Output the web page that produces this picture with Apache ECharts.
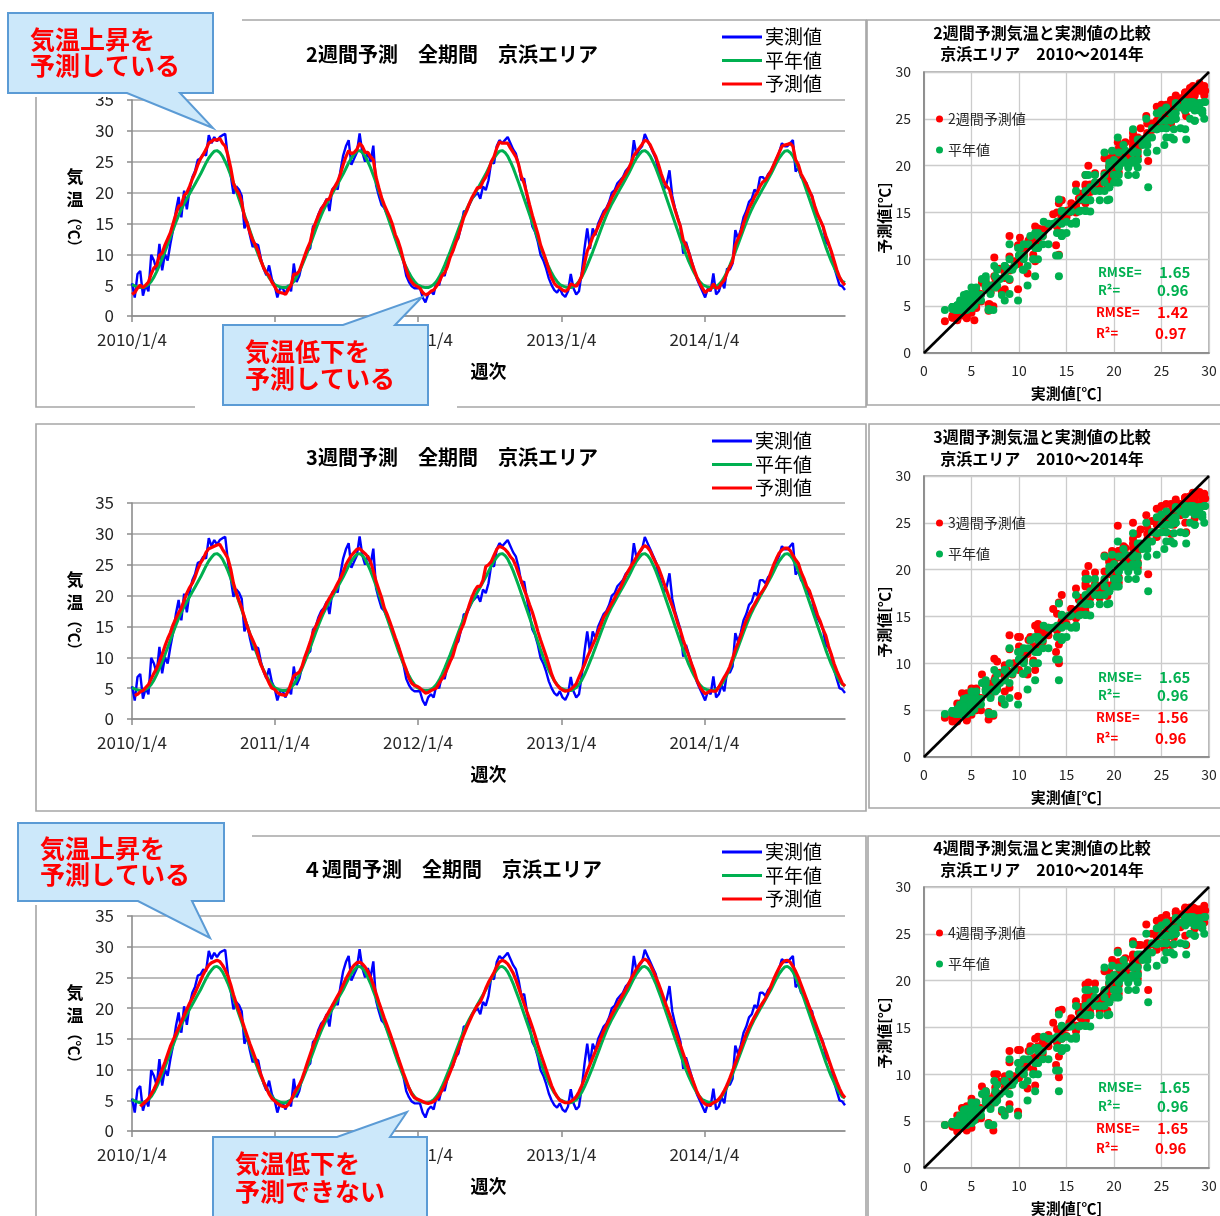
<!DOCTYPE html>
<html>
<head>
<meta charset="utf-8">
<script src="https://cdn.jsdelivr.net/npm/echarts@6/dist/echarts.min.js"></script>
<style>
  html, body { margin: 0; padding: 0; background: #fff; }
  #c { width: 1220px; height: 1216px; }
</style>
</head>
<body>
<div id="c"></div>
<script>
// ---------------- data ----------------
// x-axis tick labels (dates)
const X_TICK_LABELS = ['2010/1/4', '2011/1/4', '2012/1/4', '2013/1/4', '2014/1/4'];
const SERIES_NAMES = ['実測値', '平年値', '予測値'];
const FC_NAMES = ['2週間予測値', '3週間予測値', '4週間予測値'];

// weekly normal temperature (week of year starting 1/4), and the last week 2014/12/29
const NORMAL_YEAR = [5.1,4.9,4.7,4.6,4.6,4.8,5.1,5.6,6.3,7.2, 8.2,9.3,10.4,11.6,12.8,14.0,15.2,16.3,17.3,18.2,
  19.0,19.8,20.6,21.4,22.2,23.0,23.9,24.8,25.6,26.2, 26.7,26.8,26.5,25.9,25.0,24.0,22.8,21.6,20.3,19.0,
  17.7,16.4,15.1,13.8,12.5,11.2,10.0,8.9,7.9,7.0, 6.2,5.6];
const NORMAL_LAST = 5.4;

// observed weekly mean temperature
const ACTUAL_2010 = [5.3,3.0,6.8,7.3,3.3,5.0,4.0,9.9,9.0,7.4, 11.7,7.4,10.0,9.0,11.7,14.0,17.0,19.3,16.0,20.3,
  17.3,20.5,22.5,23.5,25.3,25.5,26.3,26.0,29.3,28.0, 29.0,28.3,29.0,29.3,29.5,25.5,22.8,19.8,21.0,20.5,
  19.5,14.2,15.3,13.1,11.2,11.7,11.5,9.3,7.7,6.6, 8.2,6.0];
const ACTUAL_2011 = [5.0,3.0,4.5,4.5,3.5,5.0,4.0,8.5,5.5,6.5, 8.5,9.5,10.5,11.0,14.5,15.0,16.5,17.5,18.0,19.0,
  17.0,20.5,21.0,20.5,23.5,26.0,27.5,28.5,24.5,25.5, 26.5,29.6,26.5,25.0,26.5,25.0,27.6,21.2,19.5,18.0,
  17.5,16.5,15.5,14.5,12.5,12.0,10.5,8.8,6.5,5.5, 4.8,4.5];
const ACTUAL_2012 = [4.5,4.5,3.0,2.2,3.5,4.0,3.5,5.5,5.0,7.0, 6.5,8.5,10.0,10.5,12.0,12.6,14.5,17.0,17.0,18.0,
  19.0,19.5,20.0,19.0,21.0,20.4,22.0,25.0,24.7,27.5, 28.5,28.0,28.5,29.0,28.0,27.0,26.3,24.5,22.0,22.3,
  19.5,17.0,14.5,13.6,12.0,9.9,9.0,7.7,6.1,5.0, 4.2,3.8];
const ACTUAL_2013 = [4.5,3.5,3.1,4.0,6.8,4.5,3.5,4.0,7.0,10.9, 14.2,10.9,14.2,13.1,15.0,16.0,17.0,17.5,18.5,20.0,
  20.4,21.5,22.0,22.5,23.5,24.0,24.5,28.5,26.0,27.0, 27.5,29.5,28.5,27.5,26.5,25.5,23.5,22.0,20.5,21.5,
  23.6,19.5,17.5,16.0,14.5,10.1,12.0,10.5,9.0,7.5, 6.0,5.0];
const ACTUAL_2014 = [4.0,3.0,4.5,4.0,6.9,3.5,4.0,5.5,4.5,7.7, 7.5,8.5,13.9,12.5,14.0,16.0,17.0,18.5,19.0,20.5,
  20.0,22.5,22.5,22.0,23.0,23.5,24.5,25.5,26.5,28.0, 27.5,27.5,28.0,28.5,23.4,24.0,22.5,22.0,21.5,20.0,
  19.5,17.0,16.3,15.5,14.5,12.0,11.5,10.4,8.0,6.5, 5.0,4.8,4.2];

// 2-week forecast
const FC2_2010 = [3.5,3.8,4.5,5.0,4.6,5.0,5.5,6.8,7.8,8.2, 9.8,10.2,11.5,12.5,13.5,15.0,16.5,17.8,18.0,19.5,
  20.0,21.0,22.2,23.2,24.5,25.5,26.2,27.0,28.0,28.3, 28.6,28.5,28.8,28.0,27.5,26.0,24.0,21.5,20.5,19.8,
  18.5,16.0,15.0,13.5,12.3,11.5,10.5,9.0,7.8,7.0, 6.5,5.5];
const FC2_2011 = [4.8,4.0,3.8,3.7,3.5,4.3,5.0,6.8,6.8,7.3, 8.5,9.8,11.0,12.0,14.0,15.2,16.3,17.3,18.0,18.8,
  19.0,20.3,21.0,21.8,23.0,24.5,25.8,26.8,26.3,26.5, 27.0,28.0,27.5,26.5,26.5,25.8,25.3,22.5,20.8,19.2,
  18.0,17.0,16.0,14.8,13.2,12.2,10.8,9.0,7.5,6.2, 5.5,5.0];
const FC2_2012 = [4.8,4.5,3.8,3.4,3.6,4.0,4.2,4.8,5.5,6.5, 7.0,8.0,9.5,10.5,11.8,13.0,14.5,16.0,17.0,18.2,
  19.2,20.0,20.8,20.8,21.8,22.5,23.5,25.0,25.8,27.2, 28.2,28.0,28.0,28.0,27.2,26.5,25.8,24.5,22.6,21.5,
  19.8,18.0,16.3,14.8,13.3,11.5,10.3,9.0,7.5,6.2, 5.3,4.8];
const FC2_2013 = [4.6,4.2,4.0,4.3,5.2,5.0,4.8,5.5,6.5,8.5, 10.5,11.5,12.8,13.5,14.5,15.5,16.5,17.3,18.2,19.2,
  20.0,20.8,21.5,22.3,23.0,23.8,24.8,26.0,26.6,27.2, 27.8,28.5,28.3,27.7,26.7,25.8,24.5,23.0,21.8,21.0,
  20.5,18.8,17.2,15.8,14.5,12.3,11.5,10.3,8.8,7.5, 6.3,5.3];
const FC2_2014 = [4.5,3.8,4.2,4.3,5.2,4.5,4.6,5.3,5.8,7.0, 8.0,8.8,11.5,12.5,13.5,15.0,16.3,17.5,18.3,19.3,
  20.0,21.0,21.7,22.0,22.8,23.5,24.5,25.5,26.5,27.5, 27.7,27.8,28.0,27.5,25.3,24.5,23.0,22.2,21.3,20.3,
  19.3,17.8,16.5,15.5,14.5,13.0,11.8,10.5,9.0,7.5, 6.3,5.5,5.0];

// 3-week forecast
const FC3_2010 = [null,3.8,4.0,4.4,4.6,5.1,5.6,6.5,7.4,8.2, 9.3,10.5,11.8,13.0,14.0,15.3,16.3,17.2,18.0,19.2,
  20.4,21.3,22.0,23.0,24.3,25.3,26.0,27.0,27.6,27.8, 28.0,28.2,28.3,27.5,26.8,26.0,24.3,22.0,20.5,19.2,
  18.0,16.5,15.0,13.8,12.8,11.8,10.3,8.8,7.8,6.8, 5.8,5.0];
const FC3_2011 = [4.8,4.3,4.0,3.9,3.8,4.5,5.8,7.0,7.3,7.6, 8.5,10.0,11.2,12.5,14.0,15.0,16.0,17.0,17.8,18.8,
  19.6,20.3,21.1,22.0,22.8,23.8,25.0,25.8,26.5,27.0, 27.5,27.6,27.2,26.8,26.3,25.5,24.0,22.3,21.0,19.7,
  18.0,17.0,15.8,14.5,13.2,12.0,10.6,9.2,8.0,6.6, 5.8,5.4];
const FC3_2012 = [5.3,5.0,4.6,4.2,4.3,4.6,4.8,5.0,5.8,6.5, 7.2,8.2,9.3,10.2,11.8,13.3,14.5,15.5,17.0,18.5,
  19.8,20.8,21.5,21.5,22.5,24.7,25.0,25.5,26.5,27.5, 28.0,27.8,27.5,27.0,26.3,25.8,24.8,23.5,22.3,21.0,
  19.8,18.5,17.3,15.8,14.2,12.8,11.5,10.2,8.8,7.3, 6.2,5.5];
const FC3_2013 = [5.0,4.7,4.5,4.6,4.8,5.2,5.7,6.8,7.8,8.8, 10.0,11.0,12.0,13.0,14.2,15.3,16.5,17.2,18.0,18.8,
  19.6,20.5,21.2,22.2,23.2,24.0,24.8,25.5,26.3,27.0, 27.7,28.1,27.8,27.2,26.2,25.3,24.5,23.3,22.0,20.8,
  19.5,18.3,17.0,15.5,14.3,12.8,11.5,10.3,9.0,7.8, 6.3,5.3];
const FC3_2014 = [4.6,4.1,4.3,4.6,4.5,4.5,5.2,6.0,6.8,7.5, 8.5,9.8,11.2,12.3,13.5,14.8,16.0,17.0,17.8,18.6,
  19.4,20.2,20.8,21.5,22.5,23.8,25.0,26.0,26.9,27.4, 27.7,27.7,27.3,26.5,25.8,25.2,23.8,22.8,21.5,20.8,
  19.5,18.2,16.8,15.8,14.5,13.5,11.8,10.5,9.0,7.8, 6.8,5.8,5.3];

// 4-week forecast
const FC4_2010 = [null,null,null,4.0,4.4,4.8,5.3,6.0,6.8,7.8, 8.8,10.0,11.2,12.5,13.8,14.8,15.8,16.8,17.8,18.8,
  19.8,20.8,21.6,22.5,23.5,24.5,25.5,26.3,27.0,27.4, 27.6,27.8,27.6,27.0,26.2,25.2,23.8,22.2,20.8,19.5,
  18.2,16.8,15.5,14.2,13.0,11.8,10.5,9.2,8.0,7.0, 6.0,5.3];
const FC4_2011 = [4.9,4.5,4.2,4.0,3.9,4.3,5.0,6.0,6.8,7.5, 8.5,9.8,11.2,12.5,13.8,15.0,16.0,17.0,17.9,18.8,
  19.6,20.4,21.2,22.0,22.8,23.8,24.8,25.6,26.4,27.0, 27.4,27.5,27.2,26.7,26.0,25.0,23.8,22.4,21.0,19.7,
  18.4,17.2,16.0,14.7,13.4,12.0,10.7,9.4,8.2,7.0, 6.0,5.4];
const FC4_2012 = [5.2,5.0,4.8,4.6,4.5,4.6,4.8,5.2,5.8,6.6, 7.5,8.5,9.6,10.7,12.0,13.3,14.5,15.7,16.8,17.8,
  18.8,19.7,20.5,21.0,22.0,23.2,24.2,25.0,25.8,26.8, 27.5,27.8,27.6,27.2,26.5,25.7,24.6,23.3,22.0,20.7,
  19.4,18.2,16.9,15.5,14.0,12.6,11.3,10.0,8.7,7.4, 6.4,5.6];
const FC4_2013 = [5.0,4.8,4.6,4.6,4.8,5.1,5.6,6.4,7.4,8.5, 9.7,10.8,11.9,13.0,14.1,15.2,16.3,17.2,18.1,19.0,
  19.8,20.6,21.4,22.2,23.0,23.9,24.8,25.6,26.4,27.1, 27.7,28.0,27.7,27.0,26.1,25.1,24.0,22.8,21.5,20.2,
  19.0,17.8,16.5,15.2,13.9,12.6,11.3,10.0,8.8,7.6, 6.4,5.5];
const FC4_2014 = [4.8,4.4,4.2,4.3,4.6,4.8,5.2,5.8,6.6,7.5, 8.6,9.8,11.0,12.2,13.4,14.6,15.8,16.8,17.7,18.6,
  19.4,20.2,20.9,21.6,22.5,23.6,24.7,25.7,26.6,27.3, 27.7,27.8,27.5,26.8,26.0,25.0,23.8,22.6,21.4,20.2,
  19.0,17.8,16.6,15.4,14.2,13.0,11.7,10.4,9.2,8.0, 6.9,6.0,5.4];

// fit statistics printed in the scatter panels
const RMSE_NORMAL = ['1.65', '1.65', '1.65'];
const R2_NORMAL = ['0.96', '0.96', '0.96'];
const RMSE_FC = ['1.42', '1.56', '1.65'];
const R2_FC = ['0.97', '0.96', '0.96'];

// ---------------- assembled series ----------------
const ACTUAL = [].concat(ACTUAL_2010, ACTUAL_2011, ACTUAL_2012, ACTUAL_2013, ACTUAL_2014);
const NORMAL = [].concat(NORMAL_YEAR, NORMAL_YEAR, NORMAL_YEAR, NORMAL_YEAR, NORMAL_YEAR, [NORMAL_LAST]);
const FC2 = [].concat(FC2_2010, FC2_2011, FC2_2012, FC2_2013, FC2_2014);
const FC3 = [].concat(FC3_2010, FC3_2011, FC3_2012, FC3_2013, FC3_2014);
const FC4 = [].concat(FC4_2010, FC4_2011, FC4_2012, FC4_2013, FC4_2014);
const FORECASTS = [FC2, FC3, FC4];

// days since 2010/1/4 for each weekly point and for each tick label
const START = Date.UTC(2010, 0, 4);
const dayOf = s => { const p = s.split('/').map(Number); return Math.round((Date.UTC(p[0], p[1] - 1, p[2]) - START) / 86400000); };
const WEEK_DAY = ACTUAL.map((_, i) => 7 * i);
const X_TICK_DAYS = X_TICK_LABELS.map(dayOf);
const LAST_DAY = WEEK_DAY[WEEK_DAY.length - 1];

// ---------------- styling ----------------
const FONT = '"Noto Sans CJK JP", "Noto Sans", sans-serif';
const BLUE = '#0000ff', GREEN = '#00b050', RED = '#ff0000';
const TEXT = '#262626';

const LINE_PANELS = [
  { top: 100, height: 216, title: '2週間予測　全期間　京浜エリア', titleY: 54, legendLeft: 722, legendTop: 27, nameY: 177 },
  { top: 503, height: 216, title: '3週間予測　全期間　京浜エリア', titleY: 457, legendLeft: 712, legendTop: 431, nameY: 580 },
  { top: 916, height: 215, title: '４週間予測　全期間　京浜エリア', titleY: 869, legendLeft: 722, legendTop: 842, nameY: 993 }
];
const SCATTER_PANELS = [
  { top: 72, titleY: [33, 54], legendTop: 111, statY: [272, 290, 312, 333] },
  { top: 476, titleY: [437, 459], legendTop: 515, statY: [677, 695, 717, 738] },
  { top: 887, titleY: [848, 870], legendTop: 925, statY: [1087, 1106, 1128, 1148] }
];
const SC_LEFT = 924, SC_W = 285, SC_H = 281;

const grid = [], xAxis = [], yAxis = [], series = [], legend = [], graphic = [];

function txt(x, y, text, size, color, opts) {
  opts = opts || {};
  graphic.push({
    type: 'text', x: x, y: y, rotation: opts.rotation || 0, z: opts.z || 10, silent: true,
    style: {
      text: text, fill: color, fontSize: size, fontFamily: FONT,
      fontWeight: opts.bold ? 'bold' : 'normal',
      align: opts.align || 'center', verticalAlign: 'middle'
    }
  });
}

// ---------------- time-series panels ----------------
LINE_PANELS.forEach((p, k) => {
  grid.push({ left: 132, top: p.top, width: 713, height: p.height });
  xAxis.push({
    gridIndex: k, type: 'value', min: 0, max: LAST_DAY,
    axisLine: { show: true, lineStyle: { color: '#8c8c8c', width: 1.6 } },
    axisTick: { show: true, customValues: X_TICK_DAYS, length: 6, lineStyle: { color: '#8c8c8c', width: 1.5 } },
    axisLabel: {
      customValues: X_TICK_DAYS, fontSize: 17, color: TEXT, fontFamily: FONT, margin: 15,
      formatter: v => X_TICK_LABELS[X_TICK_DAYS.indexOf(v)] || ''
    },
    splitLine: { show: false },
    name: '週次', nameLocation: 'middle', nameGap: 46,
    nameTextStyle: { fontSize: 18, fontWeight: 'bold', color: '#000', fontFamily: FONT }
  });
  yAxis.push({
    gridIndex: k, type: 'value', min: 0, max: 35, interval: 5,
    axisLine: { show: true, lineStyle: { color: '#8c8c8c', width: 1.6 } },
    axisTick: { show: true, length: 5, lineStyle: { color: '#8c8c8c', width: 1.5 } },
    axisLabel: { fontSize: 17, color: TEXT, fontFamily: FONT, margin: 18 },
    splitLine: { show: true, lineStyle: { color: '#a6a6a6', width: 1.6 } }
  });
  const mk = (name, vals, color, width) => ({
    type: 'line', name: name, xAxisIndex: k, yAxisIndex: k,
    data: vals.map((v, i) => [WEEK_DAY[i], v]),
    symbol: 'none', showSymbol: false, silent: true,
    lineStyle: { color: color, width: width }, itemStyle: { color: color }
  });
  series.push(mk(SERIES_NAMES[0], ACTUAL, BLUE, 2.4));
  series.push(mk(SERIES_NAMES[1], NORMAL, GREEN, 3));
  series.push(mk(SERIES_NAMES[2], FORECASTS[k], RED, 3.2));

  legend.push({
    orient: 'vertical', left: p.legendLeft, top: p.legendTop, padding: 0,
    itemWidth: 40, itemHeight: 3, itemGap: 3.5, icon: 'rect', selectedMode: false,
    textStyle: { fontSize: 19, lineHeight: 20, color: '#000', fontFamily: FONT, padding: [0, 0, 0, -2] },
    data: SERIES_NAMES.slice()
  });

  txt(452, p.titleY, p.title, 20, '#000', { bold: true });
  // vertical axis title: 気 / 温 upright, (℃) turned
  txt(75, p.nameY, '気', 17, '#000', { bold: true });
  txt(75, p.nameY + 23, '温', 17, '#000', { bold: true });
  txt(75, p.nameY + 55, '（℃）', 15, '#000', { bold: true, rotation: -Math.PI / 2 });
});

// ---------------- scatter panels ----------------
SCATTER_PANELS.forEach((p, k) => {
  const gi = 3 + k;
  grid.push({ left: SC_LEFT, top: p.top, width: SC_W, height: SC_H, show: true, borderColor: '#a0a0a0', borderWidth: 1.5 });
  const ax = (margin) => ({
    gridIndex: gi, type: 'value', min: 0, max: 30, interval: 5,
    axisLine: { show: true, lineStyle: { color: '#7f7f7f', width: 1.5 } },
    axisTick: { show: false },
    axisLabel: { fontSize: 14, color: TEXT, fontFamily: FONT, margin: margin },
    splitLine: { show: true, lineStyle: { color: '#cccccc', width: 1.3 } }
  });
  xAxis.push(ax(11));
  yAxis.push(ax(13));

  const fc = FORECASTS[k];
  series.push({
    type: 'scatter', name: FC_NAMES[k], xAxisIndex: gi, yAxisIndex: gi, silent: true,
    data: ACTUAL.map((a, i) => fc[i] == null ? null : [a, fc[i]]).filter(d => d),
    symbolSize: 8, itemStyle: { color: RED, opacity: 1 }
  });
  series.push({
    type: 'scatter', name: SERIES_NAMES[1], xAxisIndex: gi, yAxisIndex: gi, silent: true,
    data: ACTUAL.map((a, i) => [a, NORMAL[i]]),
    symbolSize: 8, itemStyle: { color: GREEN, opacity: 1 }
  });
  series.push({
    type: 'line', name: '1:1', xAxisIndex: gi, yAxisIndex: gi, silent: true, z: 5,
    data: [[0, 0], [30, 30]], symbol: 'none',
    lineStyle: { color: '#000', width: 2.6 }
  });

  legend.push({
    orient: 'vertical', left: 936, top: p.legendTop, padding: 0,
    itemWidth: 7, itemHeight: 7, itemGap: 15, selectedMode: false,
    textStyle: { fontSize: 14, lineHeight: 16, color: TEXT, fontFamily: FONT },
    data: [{ name: FC_NAMES[k], icon: 'circle' }, { name: SERIES_NAMES[1], icon: 'circle' }]
  });

  txt(1042, p.titleY[0], FC_NAMES[k].replace('値', '') + '気温と実測値の比較', 16, '#000', { bold: true });
  txt(1042, p.titleY[1], '京浜エリア　2010～2014年', 16, '#000', { bold: true });
  txt(SC_LEFT + SC_W / 2, p.top + SC_H + 40, '実測値[℃]', 15, '#000', { bold: true });
  txt(884, p.top + 146, '予測値[℃]', 15, '#000', { bold: true, rotation: Math.PI / 2 });

  const s = p.statY;
  txt(1098, s[0], 'RMSE=', 13, GREEN, { bold: true, align: 'left' });
  txt(1159, s[0], RMSE_NORMAL[k], 15, GREEN, { bold: true, align: 'left' });
  txt(1098, s[1], 'R²=', 13, GREEN, { bold: true, align: 'left' });
  txt(1157, s[1], R2_NORMAL[k], 15, GREEN, { bold: true, align: 'left' });
  txt(1096, s[2], 'RMSE=', 13, RED, { bold: true, align: 'left' });
  txt(1157, s[2], RMSE_FC[k], 15, RED, { bold: true, align: 'left' });
  txt(1096, s[3], 'R²=', 13, RED, { bold: true, align: 'left' });
  txt(1155, s[3], R2_FC[k], 15, RED, { bold: true, align: 'left' });
});

// ---------------- panel frames ----------------
[[36, 20, 830, 387], [867, 20, 360, 385], [36, 424, 830, 387], [869, 424, 360, 384],
 [36, 836, 830, 400], [868, 836, 360, 400]].forEach(r => {
  graphic.push({ type: 'rect', z: 0, silent: true,
    shape: { x: r[0], y: r[1], width: r[2], height: r[3] },
    style: { fill: 'none', stroke: '#a6a6a6', lineWidth: 1.6 } });
});

// white backing behind the speech bubbles
[[30, 0, 212, 97], [195, 405, 262, 15], [0, 812, 252, 93]].forEach(r => {
  graphic.push({ type: 'rect', z: 50, silent: true,
    shape: { x: r[0], y: r[1], width: r[2], height: r[3] }, style: { fill: '#fff' } });
});

// ---------------- speech bubbles ----------------
const BUBBLES = [
  { pts: [[8, 13], [213, 13], [213, 93], [180, 93], [213, 128], [127, 93], [8, 93]], x: 30, lines: ['気温上昇を', '予測している'], y: [39, 65] },
  { pts: [[223, 325], [343, 325], [422, 297], [395, 325], [428, 325], [428, 405], [223, 405]], x: 245, lines: ['気温低下を', '予測している'], y: [351, 378] },
  { pts: [[18, 823], [224, 823], [224, 901], [192, 901], [210, 938], [138, 901], [18, 901]], x: 40, lines: ['気温上昇を', '予測している'], y: [848, 874] },
  { pts: [[213, 1137], [337, 1137], [407, 1112], [390, 1137], [427, 1137], [427, 1232], [213, 1232]], x: 235, lines: ['気温低下を', '予測できない'], y: [1163, 1191] }
];
BUBBLES.forEach(b => {
  graphic.push({ type: 'polygon', z: 60, silent: true,
    shape: { points: b.pts },
    style: { fill: '#cce8fa', stroke: '#5b9bd5', lineWidth: 2 } });
  b.lines.forEach((t, i) => txt(b.x, b.y[i], t, 25, RED, { bold: true, align: 'left', z: 61 }));
});

const chart = echarts.init(document.getElementById('c'));
chart.setOption({
  animation: false,
  backgroundColor: '#fff',
  textStyle: { fontFamily: FONT },
  grid: grid, xAxis: xAxis, yAxis: yAxis, series: series, legend: legend,
  graphic: { elements: graphic }
});
</script>
</body>
</html>
